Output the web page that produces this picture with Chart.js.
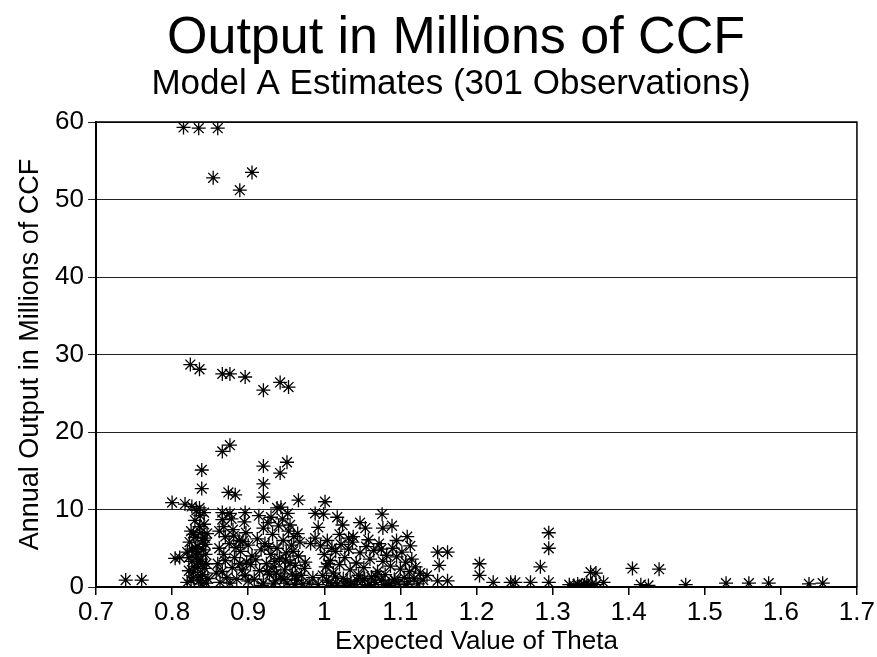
<!DOCTYPE html>
<html>
<head>
<meta charset="utf-8">
<script src="https://cdn.jsdelivr.net/npm/chart.js@4.4.1/dist/chart.umd.min.js"></script>
<style>
  html, body { margin: 0; padding: 0; background: #fff; }
  #wrap { width: 877px; height: 657px; }
</style>
</head>
<body>
<div id="wrap"><canvas id="myChart" width="877" height="657"></canvas></div>
<script>
// tick labels
const xTicks = [0.7, 0.8, 0.9, 1.0, 1.1, 1.2, 1.3, 1.4, 1.5, 1.6, 1.7];
const yTicks = [0, 10, 20, 30, 40, 50, 60];

// [expected theta, output] pairs
const highPoints = [
    [0.815, 59.3], [0.835, 59.2], [0.86, 59.2], [0.854, 52.8], [0.889, 51.2], [0.905, 53.5]
];
const midPoints = [
    [0.824, 28.7], [0.836, 28.1], [0.866, 27.5], [0.876, 27.5], [0.896, 27.1], [0.92, 25.4],
    [0.942, 26.4], [0.953, 25.8],
    [0.866, 17.5], [0.876, 18.3], [0.839, 15.1], [0.839, 12.7], [0.874, 12.2], [0.883, 11.9],
    [0.92, 15.6], [0.92, 13.3], [0.92, 11.6], [0.942, 14.7], [0.951, 16.1], [0.938, 10.2],
    [0.80, 10.9], [0.817, 10.7], [0.826, 10.4], [0.832, 9.9],
    [0.966, 11.2], [1.001, 11.0], [0.988, 9.5], [0.999, 9.4], [1.017, 9.0], [0.992, 7.7],
    [1.024, 8.0], [1.047, 8.3], [1.054, 7.6], [1.076, 9.4], [1.077, 7.6], [1.089, 7.9],
    [1.109, 6.5], [1.032, 6.3], [1.113, 5.3]
];
const leftPoints = [
    [0.739, 0.9], [0.76, 0.9], [0.804, 3.7], [0.81, 3.8]
];
const clusterA = [
    [0.82, 0.6], [0.822, 2.1], [0.82, 4.5], [0.823, 5.8], [0.825, 7.2], [0.826, 3.3], [0.828, 1.2],
    [0.83, 6.4], [0.83, 8.6], [0.832, 4.0], [0.833, 2.7], [0.834, 5.2], [0.835, 0.8], [0.836, 7.8],
    [0.837, 9.2], [0.838, 3.6], [0.84, 1.6], [0.84, 6.0], [0.841, 4.8], [0.842, 8.1], [0.843, 2.4],
    [0.844, 5.5], [0.845, 0.5], [0.845, 3.0], [0.846, 6.9], [0.836, 10.2], [0.842, 9.6], [0.828, 1.9],
    [0.833, 4.6], [0.839, 0.4], [0.822, 3.8], [0.847, 1.1], [0.831, 5.0], [0.838, 7.0], [0.844, 4.2],
    [0.826, 4.9], [0.834, 3.3], [0.84, 2.9], [0.828, 6.8], [0.843, 6.3], [0.83, 2.6], [0.837, 1.4],
    [0.825, 0.9]
];
const clusterB = [
    [0.866, 9.6], [0.876, 9.5], [0.896, 9.6], [0.866, 8.7], [0.878, 8.8], [0.895, 8.4], [0.862, 7.2],
    [0.87, 6.5], [0.88, 7.4], [0.888, 6.0], [0.897, 7.0], [0.9, 5.4], [0.862, 5.0], [0.868, 4.2],
    [0.875, 5.6], [0.882, 3.8], [0.89, 4.6], [0.898, 3.2], [0.86, 3.0], [0.866, 2.0], [0.872, 1.2],
    [0.879, 2.5], [0.885, 1.0], [0.892, 2.2], [0.9, 0.8], [0.903, 2.9], [0.863, 0.6], [0.87, 3.4],
    [0.884, 5.1], [0.893, 5.9], [0.858, 1.8], [0.876, 0.5], [0.889, 3.0], [0.896, 1.5], [0.905, 4.0],
    [0.881, 6.6], [0.868, 7.8]
];
const clusterC = [
    [0.908, 1.0], [0.91, 3.5], [0.912, 6.2], [0.915, 2.1], [0.917, 4.8], [0.92, 7.6], [0.92, 0.5],
    [0.922, 5.6], [0.924, 3.0], [0.926, 8.3], [0.928, 1.6], [0.93, 4.2], [0.932, 6.8], [0.934, 2.6],
    [0.936, 0.8], [0.938, 5.0], [0.94, 7.9], [0.941, 3.7], [0.943, 1.3], [0.945, 8.8], [0.946, 6.0],
    [0.948, 2.2], [0.95, 4.4], [0.951, 0.5], [0.953, 7.2], [0.955, 3.1], [0.957, 5.4], [0.958, 1.7],
    [0.96, 6.5], [0.962, 2.8], [0.964, 0.9], [0.966, 4.0], [0.968, 5.8], [0.97, 1.5], [0.972, 0.4],
    [0.975, 3.2], [0.914, 9.2], [0.93, 9.0], [0.943, 10.3], [0.918, 0.2], [0.927, 5.2], [0.935, 3.3],
    [0.947, 1.0], [0.952, 9.5], [0.961, 0.3], [0.955, 8.0], [0.965, 6.9], [0.974, 2.4],
    [0.925, 2.0], [0.937, 1.8], [0.949, 3.5], [0.959, 4.6], [0.963, 1.4], [0.933, 0.4]
];
const clusterD = [
    [0.98, 0.5], [0.982, 5.6], [0.985, 1.2], [0.988, 6.3], [0.992, 0.3], [0.995, 5.3], [0.998, 1.5],
    [1.0, 4.2], [1.002, 2.6], [1.004, 6.0], [1.006, 0.6], [1.008, 3.4], [1.01, 5.0], [1.012, 1.8],
    [1.015, 4.6], [1.017, 0.4], [1.02, 2.9], [1.022, 5.5], [1.025, 1.1], [1.027, 3.8], [1.03, 0.7],
    [1.032, 4.9], [1.034, 2.2], [1.037, 5.8], [1.04, 0.3], [1.042, 3.1], [1.045, 1.5], [1.047, 4.4],
    [1.05, 0.8], [1.052, 2.5], [1.055, 5.2], [1.057, 0.2], [1.06, 3.6], [1.062, 1.3], [1.065, 4.7],
    [1.067, 0.6], [1.07, 2.0], [1.072, 5.6], [1.075, 0.9], [1.077, 3.3], [1.08, 1.6], [1.082, 4.1],
    [1.085, 0.4], [1.087, 2.7], [1.09, 5.0], [1.092, 1.0], [1.095, 3.9], [1.097, 0.5], [1.1, 2.3],
    [1.102, 4.5], [1.105, 1.2], [1.107, 3.2], [1.11, 0.7], [1.112, 2.0], [1.115, 3.6], [1.118, 1.1],
    [1.12, 2.6], [1.123, 0.4], [1.126, 1.8], [1.13, 0.9], [1.01, 0.2], [1.035, 0.5], [1.06, 0.3],
    [1.085, 0.2], [1.038, 6.5], [1.058, 6.1], [1.005, 3.0], [1.075, 4.9], [1.095, 6.0], [1.02, 6.8],
    [1.003, 0.9], [1.015, 1.3], [1.027, 0.2], [1.043, 0.9], [1.053, 1.1], [1.068, 1.4], [1.078, 0.3],
    [1.093, 0.8], [1.108, 0.3]
];
const rightPoints = [
    [1.149, 4.5], [1.162, 4.5], [1.151, 2.8], [1.135, 1.5], [1.149, 0.8], [1.162, 0.8],
    [1.204, 3.0], [1.204, 1.5], [1.222, 0.6], [1.245, 0.6], [1.251, 0.6], [1.271, 0.6],
    [1.284, 2.6], [1.295, 7.0], [1.295, 5.0], [1.295, 0.6],
    [1.322, 0.3], [1.328, 0.2], [1.333, 0.4], [1.338, 0.2], [1.342, 0.3], [1.347, 0.2],
    [1.352, 0.4], [1.357, 0.3], [1.345, 0.5], [1.335, 0.1],
    [1.35, 1.9], [1.357, 1.8], [1.367, 0.6], [1.405, 2.4], [1.44, 2.3], [1.416, 0.3],
    [1.426, 0.2], [1.475, 0.3], [1.528, 0.5], [1.558, 0.5], [1.584, 0.5], [1.637, 0.4], [1.655, 0.5]
];

const allPoints = [].concat(highPoints, midPoints, leftPoints, clusterA, clusterB, clusterC, clusterD, rightPoints)
    .map(p => ({ x: p[0], y: p[1] }));

const fontName = '"Liberation Sans", Arial, sans-serif';

// top title lines + frame on top/right
const titlesAndFrame = {
    id: 'titlesAndFrame',
    afterDraw(chart) {
        const ctx = chart.ctx;
        const a = chart.chartArea;
        ctx.save();
        ctx.strokeStyle = '#000';
        ctx.lineWidth = 1.5;
        ctx.beginPath();
        ctx.moveTo(a.left, a.top);
        ctx.lineTo(a.right, a.top);
        ctx.lineTo(a.right, a.bottom);
        ctx.stroke();

        ctx.fillStyle = '#000';
        ctx.textAlign = 'center';
        ctx.textBaseline = 'alphabetic';
        ctx.font = '52px ' + fontName;
        ctx.fillText('Output in Millions of CCF', 456, 53);
        ctx.font = '35px ' + fontName;
        ctx.fillText('Model A Estimates (301 Observations)', 451, 94);
        ctx.restore();
    }
};

new Chart(document.getElementById('myChart'), {
    type: 'scatter',
    data: {
        datasets: [{
            label: 'Output',
            data: allPoints,
            pointStyle: 'star',
            pointRadius: 7,
            pointHoverRadius: 7,
            borderColor: '#000',
            backgroundColor: '#000',
            borderWidth: 1.3
        }]
    },
    options: {
        responsive: false,
        animation: false,
        layout: { padding: { top: 122, right: 20, left: 0, bottom: 0 } },
        plugins: {
            legend: { display: false },
            tooltip: { enabled: false }
        },
        scales: {
            x: {
                type: 'linear',
                min: 0.7,
                max: 1.7,
                afterFit(scale) { scale.height = 70; },
                afterBuildTicks(scale) { scale.ticks = xTicks.map(v => ({ value: v })); },
                ticks: {
                    color: '#000',
                    font: { family: fontName, size: 26 },
                    padding: 2,
                    maxRotation: 0,
                    callback: v => String(Number(v.toFixed(1)))
                },
                grid: { drawOnChartArea: false, drawTicks: true, tickLength: 8, color: '#000', lineWidth: 1.5 },
                border: { display: true, color: '#000', width: 2 },
                title: {
                    display: true,
                    text: 'Expected Value of Theta',
                    color: '#000',
                    font: { family: fontName, size: 26 },
                    padding: { top: 0, bottom: 0 }
                }
            },
            y: {
                min: 0,
                max: 60,
                afterFit(scale) { scale.width = 96; },
                afterBuildTicks(scale) { scale.ticks = yTicks.map(v => ({ value: v })); },
                ticks: {
                    color: '#000',
                    font: { family: fontName, size: 26 },
                    padding: 4
                },
                grid: { drawOnChartArea: true, drawTicks: true, tickLength: 8, color: '#222', lineWidth: 1 },
                border: { display: true, color: '#000', width: 2 },
                title: {
                    display: true,
                    text: 'Annual Output in Millions of CCF',
                    color: '#000',
                    font: { family: fontName, size: 27 },
                    padding: { top: 14, bottom: 0 }
                }
            }
        }
    },
    plugins: [titlesAndFrame]
});
</script>
</body>
</html>
